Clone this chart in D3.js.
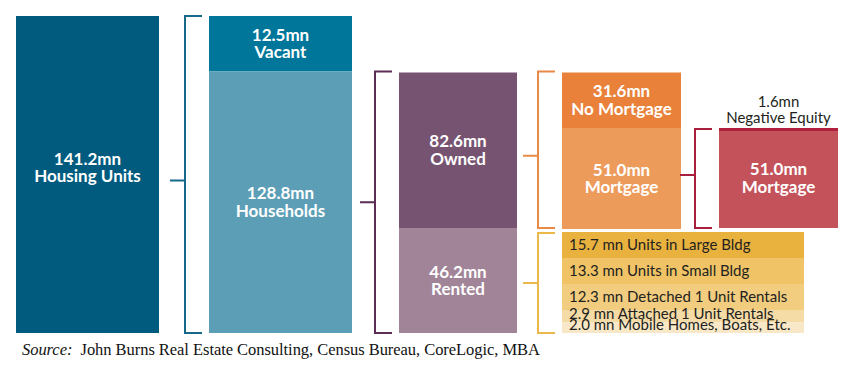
<!DOCTYPE html>
<html>
<head>
<meta charset="utf-8">
<script src="https://cdn.jsdelivr.net/npm/d3@7"></script>
<style>
  html, body { margin: 0; padding: 0; background: #fff; }
  svg { display: block; }
</style>
</head>
<body>
<div id="chart"></div>
<script>
// Chart values (millions)
const housingUnits = 141.2;
const occupancyLabels = ["Vacant", "Households"];
const occupancyValues = [12.5, 128.8];
const tenureLabels = ["Owned", "Rented"];
const tenureValues = [82.6, 46.2];
const mortgageLabels = ["No Mortgage", "Mortgage"];
const mortgageValues = [31.6, 51.0];
const negEquityValue = 1.6;
const negEquityLabel = "Negative Equity";
const rentalLabels = ["Units in Large Bldg", "Units in Small Bldg", "Detached 1 Unit Rentals", "Attached 1 Unit Rentals", "Mobile Homes, Boats, Etc."];
const rentalValues = [15.7, 13.3, 12.3, 2.9, 2.0];

const width = 858, height = 378;

const svg = d3.select("#chart")
    .append("svg")
    .attr("width", width)
    .attr("height", height);

// cumulative break points from the top of the stack
const cumMortgage = d3.cumsum([occupancyValues[0], ...mortgageValues]);
const cumRental = d3.cumsum([cumMortgage[cumMortgage.length - 1], ...rentalValues]);
const yDomain = [0, ...cumMortgage, ...cumRental.slice(1)];
yDomain[yDomain.length - 1] = housingUnits;

// piecewise scale: the diagram is not drawn to a single linear scale
const y = d3.scaleLinear()
    .domain(yDomain)
    .range([16, 71.5, 128, 228, 258, 284, 310, 322.5, 333])
    .clamp(true);

const cols = ["units", "occupancy", "tenure", "finance", "equity"];
const x = d3.scaleOrdinal().domain(cols).range([16, 209, 399, 562, 719]);
const colW = d3.scaleOrdinal().domain(cols).range([143, 143, 118, 119, 119]);
const rentalW = 242;

const boxFont = "Lato, 'Noto Sans', sans-serif";

function box(col, y0, y1, fill, lines, shift) {
    const bw = colW(col);
    svg.append("rect")
        .attr("x", x(col))
        .attr("y", y0)
        .attr("width", bw)
        .attr("height", y1 - y0)
        .attr("fill", fill);
    if (!lines) return;
    const cy = (y0 + y1) / 2 + (shift || 0);
    lines.forEach((s, i) => {
        svg.append("text")
            .attr("x", x(col) + bw / 2)
            .attr("y", cy - 3 + i * 17.5)
            .attr("text-anchor", "middle")
            .attr("fill", "#fff")
            .attr("font-family", boxFont)
            .attr("font-weight", 700)
            .attr("font-size", 17)
            .text(s);
    });
}

function bracket(nextCol, y0, y1, color, stemY) {
    const xv = x(nextCol) - 24;
    const mid = stemY || (y0 + y1) / 2;
    svg.append("path")
        .attr("d", `M${x(nextCol) - 7},${y0}H${xv}V${y1}H${x(nextCol) - 7}M${xv - 15},${mid}H${xv}`)
        .attr("fill", "none")
        .attr("stroke", color)
        .attr("stroke-width", 2);
}

// Column 1: housing units
box("units", y(0), y(housingUnits), "#015b7e", [`${housingUnits}mn`, "Housing Units"], -7);

// Column 2: vacant / households
const occColors = ["#00769a", "#5b9eb6"];
const cumOcc = [0, ...d3.cumsum(occupancyValues)];
occupancyValues.forEach((v, i) => {
    box("occupancy", y(cumOcc[i]), y(cumOcc[i + 1]), occColors[i], [`${v.toFixed(1)}mn`, occupancyLabels[i]]);
});
bracket("occupancy", y(0), y(housingUnits), "#17698a", (y(0) + y(housingUnits)) / 2 + 6);

// Column 3: owned / rented
const tenColors = ["#775372", "#a28499"];
const cumTen = [occupancyValues[0], ...d3.cumsum(tenureValues).map(d => d + occupancyValues[0])];
tenureValues.forEach((v, i) => {
    box("tenure", y(cumTen[i]) + (i === 0 ? 1 : 0), y(cumTen[i + 1]), tenColors[i], [`${v.toFixed(1)}mn`, tenureLabels[i]]);
});
bracket("tenure", y(occupancyValues[0]), y(housingUnits), "#5c2d55");

// Column 4: mortgage split of owned
const mortColors = ["#e9813a", "#ed9b5b"];
const cumMort = [occupancyValues[0], ...cumMortgage.slice(1)];
mortgageValues.forEach((v, i) => {
    box("finance", y(cumMort[i]) + (i === 0 ? 1 : 0), y(cumMort[i + 1]) + (i === 1 ? 1 : 0), mortColors[i], [`${v.toFixed(1)}mn`, mortgageLabels[i]]);
});
bracket("finance", y(cumMort[0]), y(cumMort[2]), "#ea8a47", (y(cumMort[0]) + y(cumMort[2])) / 2 + 6);

// Column 4 lower: rental types
const rentColors = ["#e9b23f", "#efc366", "#f2cc7f", "#f5dba5", "#f9e8c7"];
const rentGap = 4;
const rentRows = rentalValues.map((v, i) => ({
    v, label: rentalLabels[i], color: rentColors[i],
    y0: y(cumRental[i]) + (i === 0 ? rentGap : 0),
    y1: y(cumRental[i + 1])
}));
svg.selectAll("rect.rent")
    .data(rentRows)
    .join("rect")
    .attr("class", "rent")
    .attr("x", x("finance"))
    .attr("y", d => d.y0)
    .attr("width", rentalW)
    .attr("height", d => d.y1 - d.y0)
    .attr("fill", d => d.color);
svg.selectAll("text.rent")
    .data(rentRows)
    .join("text")
    .attr("class", "rent")
    .attr("x", x("finance") + 7)
    .attr("y", d => d.y0 + Math.min((d.y1 - d.y0) * 0.7, 18))
    .attr("fill", "#231f20")
    .attr("font-family", boxFont)
    .attr("font-size", 15)
    .text(d => `${d.v.toFixed(1)} mn ${d.label}`);
bracket("finance", y(cumRental[0]) + rentGap + 1, y(housingUnits), "#ebb84b");

// Column 5: mortgages with negative equity
const eqTop = y(cumMort[1]);
const eqBot = y(cumMort[2]);
box("equity", eqTop, eqBot, "#c4525a", [`${mortgageValues[1].toFixed(1)}mn`, "Mortgage"]);
svg.append("rect")
    .attr("x", x("equity"))
    .attr("y", eqTop)
    .attr("width", colW("equity"))
    .attr("height", 3)
    .attr("fill", "#b0203c");
[`${negEquityValue}mn`, negEquityLabel].forEach((s, i) => {
    svg.append("text")
        .attr("x", x("equity") + colW("equity") / 2)
        .attr("y", eqTop - 21 + i * 15.5)
        .attr("text-anchor", "middle")
        .attr("fill", "#231f20")
        .attr("font-family", boxFont)
        .attr("font-size", 15)
        .text(s);
});
bracket("equity", eqTop + 1, eqBot, "#a81f3e", (eqTop + eqBot) / 2 - 3);

// Source note
const src = svg.append("text")
    .attr("x", 22)
    .attr("y", 355)
    .attr("fill", "#111")
    .attr("font-family", "'Liberation Serif', 'DejaVu Serif', serif")
    .attr("font-size", 16.5)
    .attr("textLength", 518)
    .attr("lengthAdjust", "spacing");
src.append("tspan").attr("font-style", "italic").text("Source:");
src.append("tspan").text("\u00a0 John Burns Real Estate Consulting, Census Bureau, CoreLogic, MBA");
</script>
</body>
</html>
